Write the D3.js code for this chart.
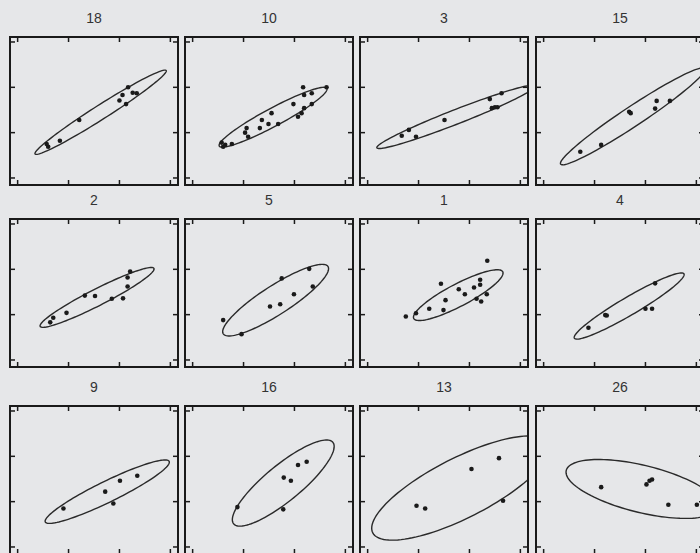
<!DOCTYPE html>
<html>
<head>
<meta charset="utf-8">
<script src="https://cdn.jsdelivr.net/npm/d3@7"></script>
<style>
  body { margin: 0; background: #e6e7e9; }
  svg { display: block; }
</style>
</head>
<body>
<div id="chart"></div>
<script>
// panel labels, left to right, top to bottom
var panelIds = ["18", "10", "3", "15", "2", "5", "1", "4", "9", "16", "13", "26"];

var tickValues = [0, 1, 2, 3];

// ellipse: centre, half extent in x and y, correlation
var ellipseCenters = [[1.63, 1.45], [1.58, 1.34], [1.74, 1.35], [1.75, 1.36],
                      [1.56, 1.38], [1.63, 1.32], [1.78, 1.43], [1.68, 1.19],
                      [1.76, 1.22], [1.78, 1.41], [1.83, 1.30], [1.93, 1.28]];
var ellipseSpreads = [[1.29, 0.93], [1.06, 0.66], [1.56, 0.70], [1.42, 1.07],
                      [1.12, 0.66], [1.04, 0.79], [0.88, 0.56], [1.08, 0.73],
                      [1.22, 0.70], [1.00, 0.95], [1.75, 1.15], [1.49, 0.65]];
var ellipseCorr = [0.98, 0.94, 0.97, 0.97, 0.95, 0.88, 0.87, 0.95, 0.93, 0.85, 0.77, -0.57];

var points18 = [[0.57, 0.75], [0.60, 0.69], [0.83, 0.82], [1.21, 1.28], [2.00, 1.71],
                [2.06, 1.83], [2.17, 2.00], [2.26, 1.88], [2.34, 1.87], [2.13, 1.63]];
var points10 = [[0.57, 0.78], [0.64, 0.73], [0.60, 0.69], [0.77, 0.75], [1.06, 1.10],
                [1.03, 1.00], [1.09, 0.91], [1.36, 1.28], [1.32, 1.10], [1.49, 1.19],
                [1.55, 1.43], [1.68, 1.19], [1.98, 1.63], [2.17, 2.00], [2.19, 1.83],
                [2.34, 1.87], [2.63, 2.00], [2.07, 1.35], [2.14, 1.43], [2.19, 1.54],
                [2.34, 1.63]];
var points3 = [[0.67, 0.93], [0.81, 1.06], [0.95, 0.91], [1.51, 1.28], [2.44, 1.54],
               [2.50, 1.56], [2.55, 1.56], [2.40, 1.74], [2.63, 1.87]];
var points15 = [[0.72, 0.58], [1.13, 0.73], [1.68, 1.46], [1.71, 1.43], [2.22, 1.70],
                [2.48, 1.70], [2.19, 1.53]];
var points2 = [[0.64, 0.83], [0.70, 0.93], [0.96, 1.04], [1.32, 1.42], [1.52, 1.41],
               [1.85, 1.35], [2.07, 1.36], [2.16, 1.62], [2.16, 1.82], [2.21, 1.95]];
var points5 = [[0.60, 0.88], [0.96, 0.57], [1.52, 1.18], [1.72, 1.23], [1.75, 1.80],
               [1.99, 1.45], [2.29, 2.01], [2.36, 1.62]];
var points1 = [[0.75, 0.96], [0.95, 1.03], [1.21, 1.13], [1.49, 1.10], [1.53, 1.32],
               [1.44, 1.68], [1.79, 1.56], [1.91, 1.45], [2.09, 1.60], [2.21, 1.77],
               [2.21, 1.66], [2.14, 1.35], [2.23, 1.29], [2.34, 1.45], [2.35, 2.19]];
var points4 = [[0.88, 0.71], [1.21, 0.99], [1.24, 0.98], [2.00, 1.13], [2.13, 1.13],
               [2.19, 1.69]];
var points9 = [[0.90, 0.85], [1.72, 1.22], [1.88, 0.96], [2.01, 1.46], [2.35, 1.57]];
var points16 = [[0.88, 0.88], [1.79, 1.53], [1.93, 1.46], [2.07, 1.81], [2.24, 1.88],
                [1.78, 0.83]];
var points13 = [[0.96, 0.91], [1.13, 0.85], [2.04, 1.72], [2.58, 1.96], [2.66, 1.02]];
var points26 = [[1.13, 1.32], [2.02, 1.38], [2.08, 1.46], [2.13, 1.49], [2.45, 0.93],
                [3.01, 0.93]];

var pointsByPanel = [points18, points10, points3, points15, points2, points5,
                     points1, points4, points9, points16, points13, points26];

var W = 700, H = 553;
var panelW = 168, panelH = 148;
var colLefts = [10, 185, 360, 536];
var rowTops = [37, 219, 406];

var x = d3.scaleLinear().domain([-0.15, 3.15]).range([0, panelW]);
var y = d3.scaleLinear().domain([-0.155, 3.11]).range([panelH, 0]);

var svg = d3.select("#chart").append("svg")
  .attr("width", W)
  .attr("height", H);

var defs = svg.append("defs");

var line = d3.line()
  .x(function(d) { return x(d[0]); })
  .y(function(d) { return y(d[1]); })
  .curve(d3.curveLinearClosed);

function ellipsePoints(c, s, r) {
  var pts = [];
  var k = Math.sqrt(1 - r * r);
  for (var i = 0; i < 120; i++) {
    var t = i / 120 * 2 * Math.PI;
    pts.push([c[0] + s[0] * Math.cos(t),
              c[1] + s[1] * (r * Math.cos(t) + k * Math.sin(t))]);
  }
  return pts;
}

panelIds.forEach(function(id, i) {
  var col = i % 4, row = Math.floor(i / 4);
  var g = svg.append("g")
    .attr("transform", "translate(" + colLefts[col] + "," + rowTops[row] + ")");

  defs.append("clipPath").attr("id", "clip" + i)
    .append("rect")
    .attr("width", panelW)
    .attr("height", panelH);

  g.append("text")
    .attr("x", panelW / 2)
    .attr("y", -14)
    .attr("text-anchor", "middle")
    .style("font-family", "'Liberation Sans', Arial, sans-serif")
    .style("font-size", "14px")
    .style("fill", "#333")
    .text(id);

  var inner = g.append("g").attr("clip-path", "url(#clip" + i + ")");

  inner.append("path")
    .datum(ellipsePoints(ellipseCenters[i], ellipseSpreads[i], ellipseCorr[i]))
    .attr("d", line)
    .attr("fill", "none")
    .attr("stroke", "#2a2a2a")
    .attr("stroke-width", 1.4);

  inner.selectAll(".dot")
    .data(pointsByPanel[i])
    .enter().append("circle")
    .attr("class", "dot")
    .attr("cx", function(d) { return x(d[0]); })
    .attr("cy", function(d) { return y(d[1]); })
    .attr("r", 2.3)
    .attr("fill", "#1a1a1a");

  // inward ticks on all four sides
  var tick = { stroke: "#1a1a1a", width: 1.5, len: 5 };
  tickValues.forEach(function(v) {
    g.append("line").attr("x1", x(v)).attr("x2", x(v))
      .attr("y1", panelH).attr("y2", panelH - tick.len)
      .attr("stroke", tick.stroke).attr("stroke-width", tick.width);
    g.append("line").attr("x1", x(v)).attr("x2", x(v))
      .attr("y1", 0).attr("y2", tick.len)
      .attr("stroke", tick.stroke).attr("stroke-width", tick.width);
    g.append("line").attr("y1", y(v)).attr("y2", y(v))
      .attr("x1", 0).attr("x2", tick.len)
      .attr("stroke", tick.stroke).attr("stroke-width", tick.width);
    g.append("line").attr("y1", y(v)).attr("y2", y(v))
      .attr("x1", panelW).attr("x2", panelW - tick.len)
      .attr("stroke", tick.stroke).attr("stroke-width", tick.width);
  });

  g.append("rect")
    .attr("width", panelW)
    .attr("height", panelH)
    .attr("fill", "none")
    .attr("stroke", "#1a1a1a")
    .attr("stroke-width", 2);
});
</script>
</body>
</html>
